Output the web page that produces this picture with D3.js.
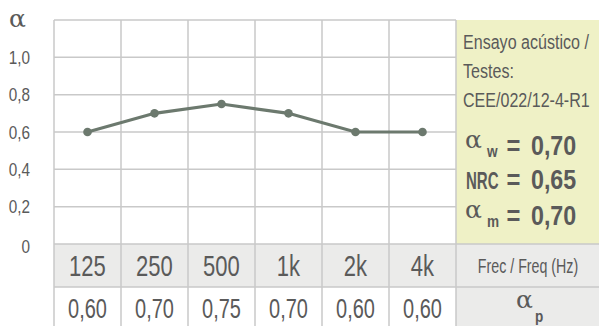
<!DOCTYPE html>
<html><head><meta charset="utf-8">
<script src="https://cdn.jsdelivr.net/npm/d3@7"></script>
<style>
html,body{margin:0;padding:0;background:#fff;}
svg{display:block;}
text{font-family:"Liberation Sans",Arial,sans-serif;fill:#5a5a5a;}
</style></head>
<body>
<svg id="c" width="599" height="326"></svg>
<script>
const freqs = ["125","250","500","1k","2k","4k"];
const alphaP = [0.60, 0.70, 0.75, 0.70, 0.60, 0.60];
const yTicks = [0, 0.2, 0.4, 0.6, 0.8, 1.0];
const infoLines = ["Ensayo acústico /", "Testes:", "CEE/022/12-4-R1"];
const ratingSyms = ["α", "NRC", "α"];
const ratingSubs = ["w", "", "m"];
const ratingValues = ["0,70", "0,65", "0,70"];
const freqLabel = "Frec / Freq (Hz)";

const fmt = v => d3.format(".2f")(v).replace(".", ",");
const fmtTick = v => v === 0 ? "0" : d3.format(".1f")(v).replace(".", ",");

const svg = d3.select("#c");
const L = 54, R = 456, T = 20, B = 244, ROW1 = 287, W = 599, H = 326;
const x = d3.scaleBand().domain(freqs).range([L, R]);
const y = d3.scaleLinear().domain([0, 1.2]).range([B, T]);
const grid = "#c9c9c9";
const SERIF = "'DejaVu Serif','Liberation Serif',serif";

function txt(parent, px, py, s, o = {}) {
  const t = parent.append("text")
    .attr("transform", `translate(${px},${py}) scale(${o.sx || 1},1)`)
    .attr("text-anchor", o.anchor || "start")
    .attr("font-size", o.size || 16)
    .text(s);
  if (o.weight) t.attr("font-weight", o.weight);
  if (o.family) t.style("font-family", o.family);
  return t;
}

// backgrounds
svg.append("rect").attr("x", R).attr("y", T).attr("width", W - R).attr("height", B - T).attr("fill", "#eff1c6");
svg.append("rect").attr("x", L).attr("y", B).attr("width", W - L).attr("height", ROW1 - B).attr("fill", "#ebebea");
svg.append("rect").attr("x", R).attr("y", ROW1).attr("width", W - R).attr("height", H - ROW1).attr("fill", "#ebebea");

// horizontal grid
const hLines = [0.2, 0.4, 0.6, 0.8, 1.0, 1.2];
svg.append("g").selectAll("line").data(hLines).join("line")
  .attr("x1", L).attr("x2", R).attr("y1", d => y(d)).attr("y2", d => y(d))
  .attr("stroke", grid).attr("stroke-width", 1.5);
// vertical grid (chart + table)
const vx = freqs.map(f => x(f)).concat([R]);
svg.append("g").selectAll("line").data(vx).join("line")
  .attr("x1", d => d).attr("x2", d => d).attr("y1", T).attr("y2", H)
  .attr("stroke", grid).attr("stroke-width", 1.5);
// table row separators
svg.append("line").attr("x1", L).attr("x2", W).attr("y1", B).attr("y2", B).attr("stroke", grid).attr("stroke-width", 1.5);
svg.append("line").attr("x1", L).attr("x2", W).attr("y1", ROW1).attr("y2", ROW1).attr("stroke", grid).attr("stroke-width", 1.5);

// y tick labels
const gy = svg.append("g");
yTicks.forEach(v => txt(gy, 30, y(v) + 6.5 + (v === 0 ? 2 : 0), fmtTick(v), {size: 18, sx: 0.85, anchor: "end"}));
// alpha axis title
txt(svg, 9, 27, "α", {size: 25, family: SERIF});

// line + dots
const cx = f => x(f) + x.bandwidth() / 2;
const line = d3.line().x((d, i) => cx(freqs[i])).y(d => y(d));
svg.append("path").datum(alphaP).attr("d", line).attr("fill", "none")
  .attr("stroke", "#6c796e").attr("stroke-width", 3.2);
svg.append("g").selectAll("circle").data(alphaP).join("circle")
  .attr("cx", (d, i) => cx(freqs[i])).attr("cy", d => y(d)).attr("r", 4.3).attr("fill", "#6c796e");

// table text
const gt = svg.append("g");
freqs.forEach(f => txt(gt, cx(f), 276, f, {size: 29, sx: 0.76, anchor: "middle"}));
alphaP.forEach((v, i) => txt(gt, cx(freqs[i]), 318, fmt(v), {size: 27, sx: 0.74, anchor: "middle"}));
txt(gt, 528, 273, freqLabel, {size: 19.5, sx: 0.73, anchor: "middle"});
// alpha_p
txt(gt, 516, 308, "α", {size: 25, family: SERIF});
txt(gt, 535, 322, "p", {size: 17, sx: 0.8, weight: "bold"});

// info panel
const gi = svg.append("g");
infoLines.forEach((s, i) => txt(gi, 463, 49 + i * 29, s, {size: 21, sx: 0.765}));
const rb = [155, 189, 225];
ratingSyms.forEach((s, i) => {
  if (s === "α") {
    txt(gi, 465, rb[i] - 7, s, {size: 25, family: SERIF});
    txt(gi, 487, rb[i] + 2, ratingSubs[i], {size: 17, sx: 0.8, weight: "bold"});
  } else {
    txt(gi, 466, rb[i], s, {size: 23.5, sx: 0.64, weight: "bold"});
  }
  txt(gi, 513.5, rb[i], "=", {size: 28, sx: 0.85, anchor: "middle", weight: "bold"});
  txt(gi, 531, rb[i], ratingValues[i], {size: 28, sx: 0.83, weight: "bold"});
});
</script>
</body></html>
